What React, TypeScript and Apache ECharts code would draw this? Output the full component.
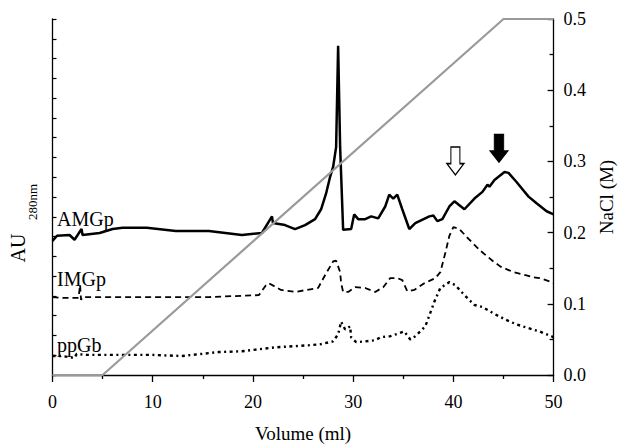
import React, { useEffect, useRef } from "react";
import * as echarts from "echarts";

// AMGp trace (solid)
const amgpVol = [0.0, 0.45, 1.7, 2.2, 2.9, 3.0, 4.7, 6.0, 7.0, 9.4, 12.3, 15.6, 18.9, 20.9, 21.9, 22.0, 23.2, 24.2, 25.2, 26.2, 26.8, 27.3, 27.7, 28.0, 28.3, 28.5, 28.7, 29.0, 29.8, 30.1, 30.5, 31.2, 31.8, 32.5, 33.2, 33.6, 34.0, 34.4, 34.9, 35.6, 36.2, 37.6, 38.0, 38.4, 38.9, 39.6, 40.1, 41.1, 42.1, 42.9, 43.4, 43.6, 44.1, 45.1, 45.5, 46.3, 47.5, 48.3, 49.3, 50.0];
const amgpAU = [0.339, 0.352, 0.354, 0.342, 0.369, 0.354, 0.359, 0.369, 0.372, 0.372, 0.364, 0.364, 0.354, 0.359, 0.401, 0.384, 0.379, 0.369, 0.379, 0.394, 0.419, 0.459, 0.501, 0.526, 0.576, 0.832, 0.576, 0.367, 0.369, 0.406, 0.394, 0.394, 0.401, 0.396, 0.426, 0.456, 0.446, 0.456, 0.419, 0.369, 0.384, 0.401, 0.403, 0.389, 0.394, 0.426, 0.439, 0.419, 0.446, 0.463, 0.481, 0.476, 0.493, 0.513, 0.511, 0.488, 0.451, 0.434, 0.414, 0.406];

// IMGp trace (dashed)
const imgpVol = [0.0, 1.0, 2.6, 2.75, 2.85, 3.0, 15.6, 20.6, 21.3, 21.6, 22.8, 24.2, 26.5, 27.3, 28.0, 28.3, 28.7, 28.8, 29.0, 29.5, 30.2, 31.2, 32.2, 33.0, 33.7, 34.4, 34.9, 35.4, 36.1, 37.1, 38.2, 38.7, 39.2, 39.6, 40.0, 40.6, 41.4, 42.7, 43.9, 44.7, 46.0, 47.3, 48.0, 48.6, 49.8, 50.0];
const imgpAU = [0.197, 0.195, 0.195, 0.228, 0.19, 0.197, 0.197, 0.202, 0.227, 0.232, 0.215, 0.21, 0.22, 0.257, 0.287, 0.289, 0.26, 0.232, 0.21, 0.21, 0.222, 0.22, 0.21, 0.222, 0.245, 0.245, 0.24, 0.212, 0.215, 0.232, 0.245, 0.26, 0.309, 0.352, 0.374, 0.369, 0.347, 0.314, 0.289, 0.274, 0.26, 0.252, 0.247, 0.245, 0.235, 0.232];

// ppGb trace (dotted)
const ppgbVol = [0.0, 1.0, 2.2, 2.4, 3.4, 9.7, 12.9, 16.6, 18.9, 20.9, 22.3, 24.2, 25.5, 26.8, 28.0, 28.5, 28.8, 29.2, 29.7, 29.8, 30.3, 31.2, 32.2, 32.8, 33.7, 35.1, 35.7, 36.2, 37.2, 38.1, 38.7, 39.6, 40.2, 41.1, 42.1, 42.9, 43.9, 45.2, 46.3, 47.3, 48.6, 49.8, 50.0];
const ppgbAU = [0.048, 0.048, 0.043, 0.053, 0.051, 0.051, 0.048, 0.058, 0.06, 0.066, 0.07, 0.073, 0.075, 0.078, 0.085, 0.103, 0.135, 0.115, 0.123, 0.095, 0.083, 0.085, 0.088, 0.096, 0.098, 0.11, 0.09, 0.098, 0.123, 0.185, 0.22, 0.235, 0.227, 0.202, 0.177, 0.172, 0.157, 0.14, 0.128, 0.12, 0.11, 0.098, 0.095];

// NaCl gradient
const naclVol = [0, 5, 45, 50];
const naclM = [0, 0, 0.5, 0.5];

// arrow annotations [volume, AU]
const openArrow = [40.2, 0.541];
const filledArrow = [44.55, 0.573];

const traceLabels = ["AMGp", "IMGp", "ppGb"];

const zip = (a: number[], b: number[]) => a.map((v, i) => [v, b[i]]);

const FONT = "Liberation Serif";
const arrowPath = "path://M4,0 L13,0 L13,16 L17,16 L8.5,27 L0,16 L4,16 Z";

export default function App() {
  const ref = useRef<HTMLDivElement>(null);
  useEffect(() => {
    if (!ref.current) return;
    const chart = echarts.init(ref.current, undefined, { renderer: "svg" });
    const axisLine = { lineStyle: { color: "#000", width: 1.3 } };
    const txt = (text: string, size: number) => ({
      text,
      fontFamily: FONT,
      fontSize: size,
      fill: "#000",
    });
    chart.setOption({
      animation: false,
      backgroundColor: "#fff",
      textStyle: { fontFamily: FONT },
      grid: { left: 52.5, right: 67, top: 19, bottom: 67 },
      xAxis: {
        type: "value",
        min: 0,
        max: 50,
        interval: 10,
        name: "Volume (ml)",
        nameLocation: "middle",
        nameGap: 49,
        nameTextStyle: { fontFamily: FONT, fontSize: 19, color: "#000" },
        axisLine,
        axisTick: { inside: false, length: 7, lineStyle: { color: "#000", width: 1.3 } },
        minorTick: { show: true, splitNumber: 2, length: 4, lineStyle: { color: "#000", width: 1.3 } },
        splitLine: { show: false },
        axisLabel: { fontFamily: FONT, fontSize: 18, color: "#000", margin: 18 },
      },
      yAxis: [
        {
          type: "value",
          min: 0,
          max: 0.9,
          interval: 0.05,
          position: "left",
          axisLine: { show: true, ...axisLine },
          axisTick: { show: true, inside: true, length: 4, lineStyle: { color: "#000", width: 1.2 } },
          axisLabel: { show: false },
          splitLine: { show: false },
        },
        {
          type: "value",
          min: 0,
          max: 0.5,
          interval: 0.1,
          position: "right",
          name: "NaCl (M)",
          nameLocation: "middle",
          nameRotate: 90,
          nameGap: 34,
          nameTextStyle: { fontFamily: FONT, fontSize: 19, color: "#000" },
          axisLine: { show: true, ...axisLine },
          axisTick: { show: true, inside: true, length: 6, lineStyle: { color: "#000", width: 1.3 } },
          minorTick: { show: true, splitNumber: 2, length: 4, lineStyle: { color: "#000", width: 1.3 } },
          axisLabel: {
            fontFamily: FONT,
            fontSize: 18,
            color: "#000",
            margin: 10,
            formatter: (v: number) => v.toFixed(1),
          },
          splitLine: { show: false },
        },
      ],
      series: [
        {
          name: traceLabels[0],
          type: "line",
          yAxisIndex: 0,
          data: zip(amgpVol, amgpAU),
          symbol: "none",
          lineStyle: { color: "#000", width: 2.5 },
          markPoint: {
            silent: true,
            label: { show: false },
            data: [
              {
                coord: openArrow,
                symbol: arrowPath,
                symbolSize: [17, 28],
                itemStyle: { color: "#fff", borderColor: "#000", borderWidth: 1.3 },
              },
              {
                coord: filledArrow,
                symbol: arrowPath,
                symbolSize: [18, 28],
                itemStyle: { color: "#000", borderColor: "#000", borderWidth: 1 },
              },
            ],
          },
        },
        {
          name: traceLabels[1],
          type: "line",
          yAxisIndex: 0,
          data: zip(imgpVol, imgpAU),
          symbol: "none",
          lineStyle: { color: "#000", width: 1.8, type: [6, 4] },
        },
        {
          name: traceLabels[2],
          type: "line",
          yAxisIndex: 0,
          data: zip(ppgbVol, ppgbAU),
          symbol: "none",
          lineStyle: { color: "#000", width: 2.4, type: [3, 3.5, 2, 3.5] },
        },
        {
          name: "NaCl",
          type: "line",
          yAxisIndex: 1,
          data: zip(naclVol, naclM),
          symbol: "none",
          lineStyle: { color: "#9a9a9a", width: 2.2 },
          z: 5,
        },
      ],
      graphic: [
        { type: "text", x: 57, y: 209, style: txt(traceLabels[0], 20) },
        { type: "text", x: 57, y: 269, style: txt(traceLabels[1], 20) },
        { type: "text", x: 57, y: 335, style: txt(traceLabels[2], 20) },
        {
          type: "text",
          x: 18,
          y: 248,
          rotation: Math.PI / 2,
          style: { ...txt("AU", 20), align: "center", verticalAlign: "middle" },
        },
        {
          type: "text",
          x: 32,
          y: 202,
          rotation: Math.PI / 2,
          style: { ...txt("280nm", 13), align: "center", verticalAlign: "middle" },
        },
      ],
    });
    return () => chart.dispose();
  }, []);
  return <div ref={ref} style={{ width: 624, height: 448, position: "absolute", left: 0, top: 0 }} />;
}
